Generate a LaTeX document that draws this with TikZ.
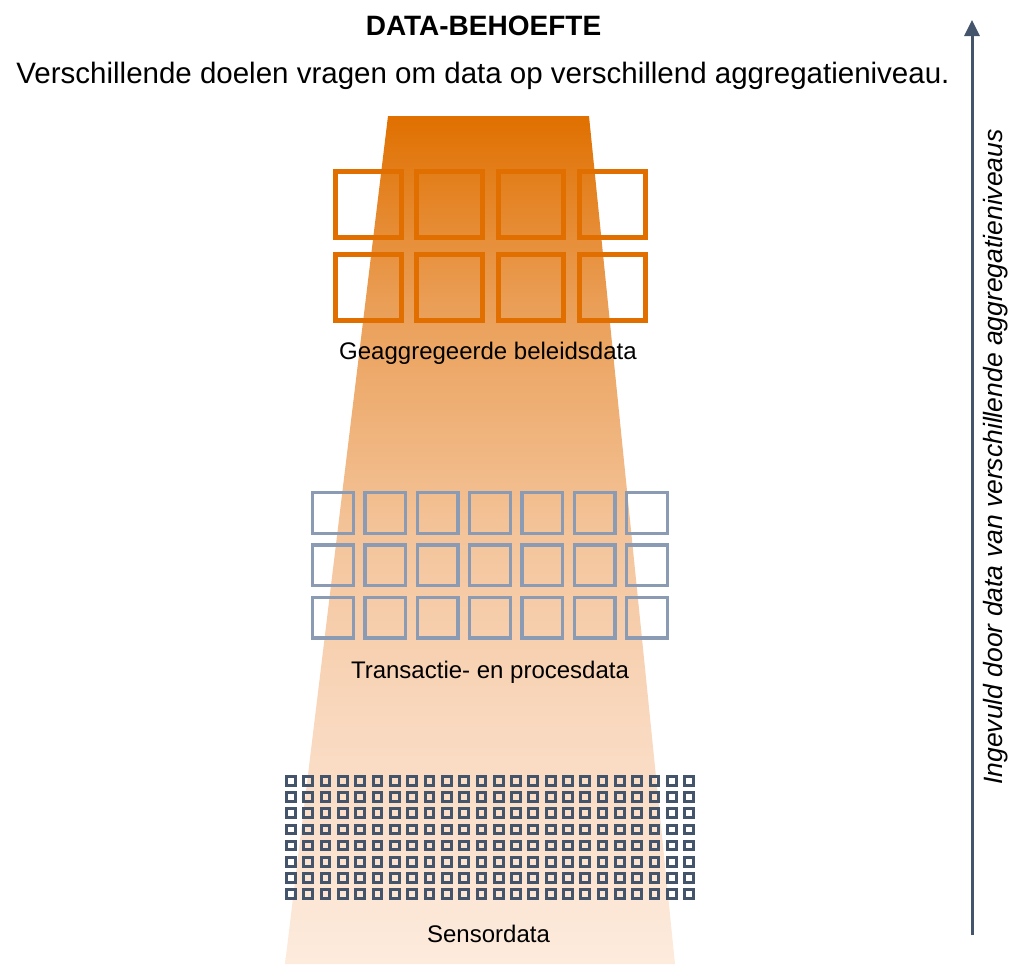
\documentclass[tikz,border=0pt]{standalone}
\usepackage{fontspec}
\setmainfont{Liberation Sans}
\usetikzlibrary{arrows.meta}
\definecolor{funnelA}{HTML}{E07000}
\definecolor{funnelB}{HTML}{EA9E56}
\definecolor{funnelC}{HTML}{F4C59C}
\definecolor{funnelD}{HTML}{F9D8BE}
\definecolor{funnelE}{HTML}{FDEBDD}
\definecolor{boxorange}{HTML}{E06F00}
\definecolor{boxblue}{HTML}{8A9BB3}
\definecolor{boxslate}{HTML}{44546A}
\pgfdeclareverticalshading{funnelfade}{100bp}{color(0bp)=(funnelE); color(25bp)=(funnelE);
  color(39.4bp)=(funnelD); color(50bp)=(funnelC); color(64bp)=(funnelB);
  color(75bp)=(funnelA); color(100bp)=(funnelA)}

\begin{document}
\begin{tikzpicture}[x=1pt,y=-1pt,
  lvltext/.style={inner sep=0pt,anchor=base,font=\fontsize{24}{28}\selectfont},
  bigsq/.style={draw=boxorange,line width=5pt},
  midsq/.style={draw=boxblue,line width=3.3pt},
  smallsq/.style={draw=boxslate,line width=3pt}]
\useasboundingbox (0,0) rectangle (1009,964);
\shade[shading=funnelfade] (388,116) -- (589,116) -- (675,964) -- (285,964) -- cycle;

\foreach \i in {0,...,3}
  \foreach \j in {0,1}
    \draw[bigsq] ({335.5+81.3*\i},{171.8+82.7*\j}) rectangle ++(65.7,65.7);
\foreach \i in {0,...,6}
  \foreach \j in {0,...,2}
    \draw[midsq] ({312.65+52.3*\i},{492.65+52.3*\j}) rectangle ++(40.7,40.7);
\foreach \i in {0,...,23}
  \foreach \j in {0,...,7}
    \draw[smallsq] ({286.5+17.32*\i},{776.5+16.19*\j}) rectangle ++(8.7,8.7);

\node[lvltext,font=\bfseries\fontsize{28}{33}\selectfont] (titel) at (483.5,35) {DATA-BEHOEFTE};
\node[lvltext,font=\fontsize{29.5}{34}\selectfont] (vraag) at (483,83) {Verschillende doelen vragen om data op verschillend aggregatieniveau.};
\node[lvltext] (beleid) at (488,359) {Geaggregeerde beleidsdata};
\node[lvltext] (proces) at (490,678) {Transactie- en procesdata};
\node[lvltext] (sensor) at (488.5,942) {Sensordata};

\coordinate (voet) at (972,935);
\coordinate (punt) at (972,20);
\draw[boxslate,line width=3pt,-{Triangle[width=15pt,length=16pt]}] (voet) -- (punt);
\node[rotate=90,inner sep=0pt,font=\itshape\fontsize{26.5}{30}\selectfont] (ingevuld) at (996,457) {Ingevuld door data van verschillende aggregatieniveaus};
\end{tikzpicture}
\end{document}
